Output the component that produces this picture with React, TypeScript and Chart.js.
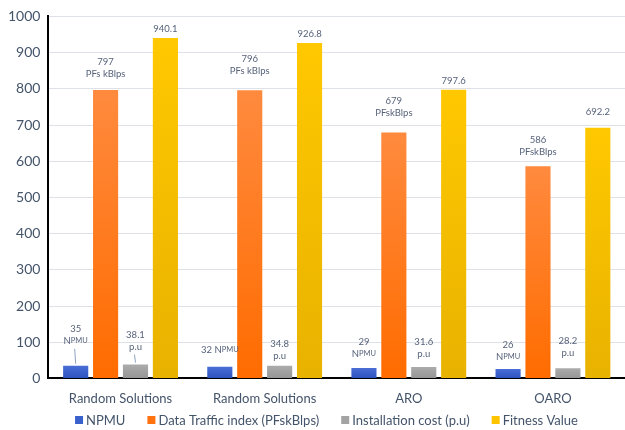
import { useEffect, useRef } from "react";
import { Chart, registerables } from "chart.js";

Chart.register(...registerables);

const categories = ["Random Solutions", "Random Solutions", "ARO", "OARO"];
const npmu = [35, 32, 29, 26];
const dataTraffic = [797, 796, 679, 586];
const installCost = [38.1, 34.8, 31.6, 28.2];
const fitness = [940.1, 926.8, 797.6, 692.2];
const seriesNames = ["NPMU", "Data Traffic index (PFskBlps)", "Installation cost (p.u)", "Fitness Value"];
const trafficUnits = ["PFs kBlps", "PFs kBlps", "PFskBlps", "PFskBlps"];
const legendColors = ["#3A60CC", "#FF7210", "#A3A3A3", "#FFC400"];

const FONT = "Lato, 'Open Sans', sans-serif";
const TEXT = "#44546A";
const LABEL = "#56627A";

type Seg = { t: string; size: number };
type Line = Seg[];

// Label lines for bar i of dataset ds (the last line sits closest to the bar)
function labelLines(ds: number, i: number): Line[] {
  const s = (t: string, size = 9.5): Seg => ({ t, size });
  const npmuSegs = [s("N"), s("PMU", 7.5)];
  if (ds === 0) {
    const v = String(npmu[i]);
    if (i === 1) return [[s(v + " "), ...npmuSegs]];
    return [[s(v)], npmuSegs];
  }
  if (ds === 1) return [[s(String(dataTraffic[i]))], [s(trafficUnits[i])]];
  if (ds === 2) return [[s(installCost[i].toFixed(1))], [s("p.u")]];
  return [[s(fitness[i].toFixed(1))]];
}

// Distance from the bar top to the centre of the label's lowest line
const LIFT = [
  [25, 17, 14, 12],
  [16, 19, 20, 14],
  [18, 10, 13, 15],
  [9, 9, 9, 16],
];

const barLabels = {
  id: "barLabels",
  afterDatasetsDraw(chart: Chart) {
    const ctx = chart.ctx;
    ctx.save();
    ctx.fillStyle = LABEL;
    ctx.textBaseline = "middle";
    ctx.textAlign = "left";
    chart.data.datasets.forEach((_, ds) => {
      const meta = chart.getDatasetMeta(ds);
      meta.data.forEach((bar: any, i: number) => {
        const lines = labelLines(ds, i);
        const bottomY = bar.y - LIFT[ds][i];
        lines.forEach((line, li) => {
          const y = bottomY - (lines.length - 1 - li) * 12;
          let w = 0;
          line.forEach((sg) => {
            ctx.font = `${sg.size}px ${FONT}`;
            w += ctx.measureText(sg.t).width;
          });
          let x = bar.x - w / 2;
          line.forEach((sg) => {
            ctx.font = `${sg.size}px ${FONT}`;
            ctx.fillText(sg.t, x, y);
            x += ctx.measureText(sg.t).width;
          });
        });
        // leader lines on the first group's small bars
        if (i === 0 && (ds === 0 || ds === 2)) {
          ctx.strokeStyle = "#8FA3C0";
          ctx.lineWidth = 1;
          ctx.beginPath();
          ctx.moveTo(bar.x - 1, bottomY + 8);
          ctx.lineTo(bar.x, bar.y - 2);
          ctx.stroke();
        }
      });
    });
    ctx.restore();
  },
};

// Legend row drawn under the axis labels
const bottomLegend = {
  id: "bottomLegend",
  afterDraw(chart: Chart) {
    const ctx = chart.ctx;
    ctx.save();
    ctx.font = `13px ${FONT}`;
    ctx.textBaseline = "middle";
    ctx.textAlign = "left";
    const box = 8, gapText = 3, gapItem = 22;
    const widths = seriesNames.map((n) => box + gapText + ctx.measureText(n).width);
    const total = widths.reduce((a, b) => a + b, 0) + gapItem * (widths.length - 1);
    let x = chart.width / 2 + 14 - total / 2;
    const y = chart.height - 10;
    seriesNames.forEach((n, idx) => {
      ctx.fillStyle = legendColors[idx];
      ctx.fillRect(x, y - box / 2, box, box);
      ctx.fillStyle = TEXT;
      ctx.fillText(n, x + box + gapText, y + 1);
      x += widths[idx] + gapItem;
    });
    ctx.restore();
  },
};

function gradient(top: string, bottom: string) {
  return (c: any) => {
    const chart = c.chart;
    const area = chart.chartArea;
    if (!area || c.type !== "data") return top;
    const yScale = chart.scales.y;
    const y0 = yScale.getPixelForValue(c.raw);
    const y1 = yScale.getPixelForValue(0);
    const g = chart.ctx.createLinearGradient(0, y0, 0, y1);
    g.addColorStop(0, top);
    g.addColorStop(1, bottom);
    return g;
  };
}

export default function App() {
  const ref = useRef<HTMLCanvasElement>(null);

  useEffect(() => {
    if (!ref.current) return;
    const common = { categoryPercentage: 0.83, barPercentage: 0.84, borderWidth: 0 };
    const chart = new Chart(ref.current, {
      type: "bar",
      data: {
        labels: categories,
        datasets: [
          { label: seriesNames[0], data: npmu, backgroundColor: gradient("#4A6ED6", "#2C52BE"), ...common },
          { label: seriesNames[1], data: dataTraffic, backgroundColor: gradient("#FF8A3E", "#FF6C00"), ...common },
          { label: seriesNames[2], data: installCost, backgroundColor: gradient("#ABABAB", "#969696"), ...common },
          { label: seriesNames[3], data: fitness, backgroundColor: gradient("#FFC800", "#E8B200"), ...common },
        ],
      },
      options: {
        animation: false,
        responsive: true,
        maintainAspectRatio: false,
        layout: { padding: { top: 9, left: 0, right: 0, bottom: 18 } },
        plugins: {
          tooltip: { enabled: false },
          legend: { display: false },
        },
        scales: {
          x: {
            grid: { display: false },
            border: { color: "#000", width: 2 },
            ticks: { color: TEXT, font: { family: FONT, size: 13 }, padding: 5 },
          },
          y: {
            min: 0,
            max: 1000,
            ticks: {
              stepSize: 100,
              color: TEXT,
              font: { family: FONT, size: 14 },
              padding: 8,
              callback: (v: any) => String(v),
            },
            grid: { color: "#DEE2E8", drawTicks: false },
            border: { color: "#000", width: 2 },
          },
        },
      },
      plugins: [barLabels, bottomLegend],
    });
    return () => chart.destroy();
  }, []);

  return (
    <div style={{ position: "fixed", left: 0, top: 0, width: 625, height: 430, background: "#fff" }}>
      <canvas ref={ref} />
    </div>
  );
}
